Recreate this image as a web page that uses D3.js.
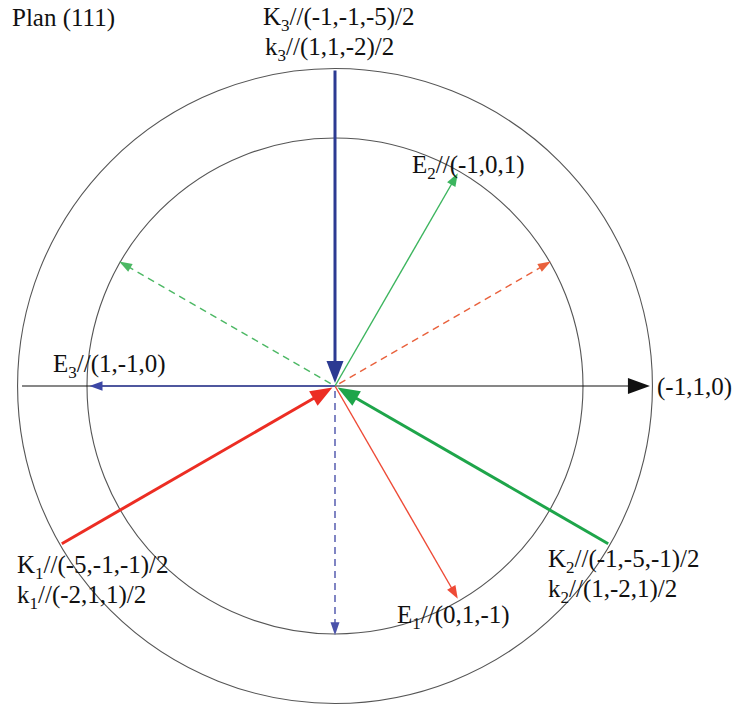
<!DOCTYPE html>
<html><head><meta charset="utf-8">
<script src="https://cdn.jsdelivr.net/npm/d3@7"></script>
<style>body{margin:0;background:#fff}</style>
</head><body><svg id="c" width="734" height="704"></svg>
<script>
// ---- data ----
const title = "Plan (111)";
const axisDir = [-1, 1, 0];      // horizontal direction in the (111) plane
const upDir = [-1, -1, 2];       // vertical direction in the (111) plane
const axisLabel = "(-1,1,0)";
const modeIds = ["1", "2", "3"];
const bigK = [[-5, -1, -1], [-1, -5, -1], [-1, -1, -5]];
const smallK = [[-2, 1, 1], [1, -2, 1], [1, 1, -2]];
const fieldE = [[0, 1, -1], [-1, 0, 1], [1, -1, 0]];
const circleRadii = [1, 1.28];

// ---- styles ----
const thickCol = ["#ec2d23", "#1ea54a", "#2c3a92"];
const thinCol = ["#ee4a36", "#3cb55e", "#3c47a6"];
const dashCol = ["#e9613c", "#4cb864", "#4a52aa"];

const svg = d3.select("#c");
svg.append("rect").attr("width", 734).attr("height", 704).attr("fill", "#fff");

const cx = 335, cy = 386, r0 = 248;
const x = d3.scaleLinear().domain([-1, 1]).range([cx - r0, cx + r0]);
const y = d3.scaleLinear().domain([-1, 1]).range([cy + r0, cy - r0]);

const dot = (a, b) => a[0] * b[0] + a[1] * b[1] + a[2] * b[2];
const norm = a => Math.sqrt(dot(a, a));
function proj(v) {
  const px = dot(v, axisDir) / norm(axisDir), py = dot(v, upDir) / norm(upDir);
  const l = Math.hypot(px, py);
  return [px / l, py / l];
}

// circles
svg.selectAll("circle.ring").data(circleRadii).enter().append("circle")
  .attr("cx", x(0)).attr("cy", y(0))
  .attr("r", d => x(d) - x(0))
  .attr("fill", "none").attr("stroke", "#555").attr("stroke-width", 1.1);

// arrow helper: from (x1,y1) to (x2,y2) in pixels
function arrow(g, x1, y1, x2, y2, col, w, hl, hw, dash) {
  const dx = x2 - x1, dy = y2 - y1, L = Math.hypot(dx, dy);
  const ux = dx / L, uy = dy / L;
  const bx = x2 - ux * hl, by = y2 - uy * hl;
  g.append("line").attr("x1", x1).attr("y1", y1).attr("x2", bx + ux * 1).attr("y2", by + uy * 1)
    .attr("stroke", col).attr("stroke-width", w).attr("stroke-dasharray", dash || null);
  g.append("path")
    .attr("d", `M${x2},${y2}L${bx - uy * hw},${by + ux * hw}L${bx + uy * hw},${by - ux * hw}Z`)
    .attr("fill", col);
}

const g = svg.append("g");
// horizontal axis
arrow(g, x(-1.262), y(0), x(1.27), y(0), "#111", 1.1, 22, 8);

// dashed k-directions
modeIds.forEach((m, i) => {
  const d = proj(smallK[i]);
  arrow(g, x(d[0] * 0.02), y(d[1] * 0.02), x(d[0] * 1.005), y(d[1] * 1.005), dashCol[i], 1.4, 13, 4.5, "7,5");
});
// thin E vectors
modeIds.forEach((m, i) => {
  const d = proj(fieldE[i]);
  arrow(g, x(0), y(0), x(d[0] * 0.99), y(d[1] * 0.99), thinCol[i], 1.4, 13, 4.8);
});
// thick K vectors arriving at centre
modeIds.forEach((m, i) => {
  const d = proj(smallK[i]);
  arrow(g, x(-d[0] * 1.272), y(-d[1] * 1.272), x(-d[0] * 0.012), y(-d[1] * 0.012), thickCol[i], 3, 22, 8.5);
});

// ---- text ----
const font = "'Liberation Serif','Times New Roman',serif";
function label(px, py, main, sub, rest) {
  const t = svg.append("text").attr("x", px).attr("y", py)
    .attr("font-family", font).attr("font-size", 25).attr("fill", "#111");
  t.append("tspan").text(main);
  if (sub) {
    t.append("tspan").attr("font-size", 17).attr("dy", 6).text(sub);
    t.append("tspan").attr("dy", -6).text(rest);
  }
  return t;
}
const fmt = v => "(" + v.join(",") + ")";
label(12, 26, title);
label(657, 395, axisLabel);

const Kpos = [[17, 573], [548, 567], [263, 25]];
const kpos = [[17, 603], [548, 597], [265, 55]];
const Epos = [[397, 623], [412, 173], [53, 372]];
modeIds.forEach((m, i) => {
  label(Kpos[i][0], Kpos[i][1], "K", m, "//" + fmt(bigK[i]) + "/2");
  label(kpos[i][0], kpos[i][1], "k", m, "//" + fmt(smallK[i]) + "/2");
  label(Epos[i][0], Epos[i][1], "E", m, "//" + fmt(fieldE[i]));
});
</script></body></html>
